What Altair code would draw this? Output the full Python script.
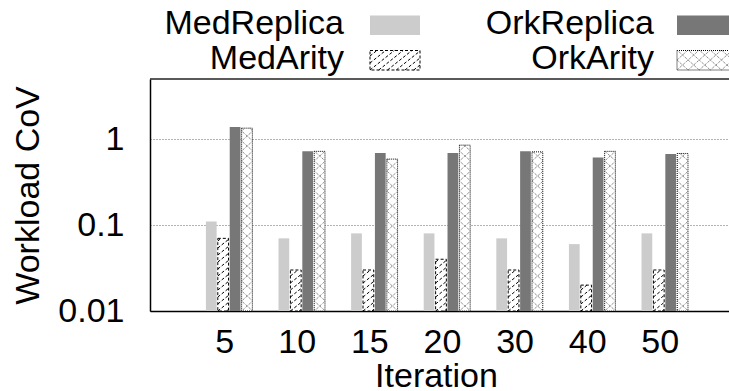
import json

import altair as alt
import numpy as np
import pandas as pd

# ---- data -------------------------------------------------------------
iterations = ["5", "10", "15", "20", "30", "40", "50"]
series = ["MedReplica", "MedArity", "OrkReplica", "OrkArity"]
med_replica = [0.11, 0.07, 0.08, 0.08, 0.07, 0.06, 0.08]
med_arity = [0.07, 0.03, 0.03, 0.04, 0.03, 0.02, 0.03]
ork_replica = [1.38, 0.72, 0.69, 0.69, 0.72, 0.61, 0.67]
ork_arity = [1.34, 0.72, 0.585, 0.85, 0.71, 0.72, 0.68]
y_ticks = [0.01, 0.1, 1]

values = {
    "MedReplica": med_replica,
    "MedArity": med_arity,
    "OrkReplica": ork_replica,
    "OrkArity": ork_arity,
}

# ---- layout -------------------------------------------------------------
PAD_L, PAD_T, PAD_B = 150, 79, 80
W, H = 579, 232
Y_MIN, Y_MAX = 0.01, 5
X_MIN, X_MAX = -1.09, 6.885
BAR_STEP = 0.164      # distance between neighbouring bars of a group (group units)
BAR_HALF = 0.074      # half a bar width (group units)
FONT = "Liberation Sans"
FS = 34

px_per_dec = H / np.log10(Y_MAX / Y_MIN)
px_per_unit = W / (X_MAX - X_MIN)


def to_x(px):
    """Horizontal pixel inside the plot -> x data value."""
    return X_MIN + px / px_per_unit


def to_y(py):
    """Pixels below the plot top -> y data value on the log scale."""
    return Y_MAX * 10 ** (-py / px_per_dec)


STYLE = {
    "MedReplica": dict(fill="#cccccc"),
    "MedArity": dict(fill="white", stroke="black", strokeDash=[3, 2], strokeWidth=1),
    "OrkReplica": dict(fill="#777777"),
    "OrkArity": dict(fill="white", stroke="black", strokeDash=[1, 1], strokeWidth=1),
}

# hatch line families for the patterned series
HATCH = {
    "MedArity": [dict(slope=0.8, gap=7, color="black", dash=[3, 2])],
    "OrkArity": [
        dict(slope=0.9, gap=10, color="#666666", dash=[1, 1]),
        dict(slope=-0.9, gap=10, color="#666666", dash=[1, 1]),
    ],
}


def hatch_lines(w, h, slope, gap):
    """Parallel lines v = o + slope*u clipped to the box [0,w] x [0,h] (v upwards)."""
    segs = []
    lo = min(0.0, -slope * w)
    hi = max(h, h - slope * w)
    k = int(np.floor(lo / gap))
    while k * gap <= hi:
        o = k * gap
        if slope > 0:
            u0, u1 = max(0.0, -o / slope), min(w, (h - o) / slope)
        else:
            u0, u1 = max(0.0, (h - o) / slope), min(w, -o / slope)
        if u1 - u0 > 0.3:
            segs.append((u0, o + slope * u0, u1, o + slope * u1))
        k += 1
    return segs


# ---- bar table ---------------------------------------------------------------
rows = []
for i, it in enumerate(iterations):
    for j, s in enumerate(series):
        pos = i + (j - 1.5) * BAR_STEP
        rows.append(dict(iteration=it, series=s, x0=pos - BAR_HALF,
                         x1=pos + BAR_HALF, value=values[s][i], base=Y_MIN))
bars = pd.DataFrame(rows)

# ---- legend table (two columns, text right-aligned before its swatch) --------
LEG_TEXT_RIGHT = [194, 504]
LEG_SWATCH_X = [(220, 270), (527, 580)]
LEG_BASELINE = [-45, -10]
LEG_SWATCH_H = 19.5
leg_rows = []
for j, s in enumerate(series):
    col, row = j // 2, j % 2
    sx0, sx1 = LEG_SWATCH_X[col]
    sy1 = LEG_BASELINE[row] + 1
    leg_rows.append(dict(series=s, tx=to_x(LEG_TEXT_RIGHT[col]), ty=to_y(LEG_BASELINE[row]),
                         x0=to_x(sx0), x1=to_x(sx1), value=to_y(sy1 - LEG_SWATCH_H),
                         base=to_y(sy1), sx0=sx0, sx1=sx1, sy1=sy1))
legend = pd.DataFrame(leg_rows)

# ---- hatch segments for bars and legend swatches -----------------------------
hrows = []
for s, families in HATCH.items():
    for f_idx, fam in enumerate(families):
        key = f"{s}-{f_idx}"
        for _, b in bars[bars.series == s].iterrows():
            w = (b.x1 - b.x0) * px_per_unit
            h = np.log10(b.value / Y_MIN) * px_per_dec
            for u0, v0, u1, v1 in hatch_lines(w, h, fam["slope"], fam["gap"]):
                hrows.append(dict(key=key,
                                  xa=b.x0 + u0 / px_per_unit, xb=b.x0 + u1 / px_per_unit,
                                  ya=Y_MIN * 10 ** (v0 / px_per_dec),
                                  yb=Y_MIN * 10 ** (v1 / px_per_dec)))
        lg = legend[legend.series == s].iloc[0]
        for u0, v0, u1, v1 in hatch_lines(lg.sx1 - lg.sx0, LEG_SWATCH_H, fam["slope"], fam["gap"]):
            hrows.append(dict(key=key, xa=to_x(lg.sx0 + u0), xb=to_x(lg.sx0 + u1),
                              ya=to_y(lg.sy1 - v0), yb=to_y(lg.sy1 - v1)))
hatch = pd.DataFrame(hrows)

# ---- scales & axes -------------------------------------------------------------
xs = alt.Scale(domain=[X_MIN, X_MAX], nice=False, zero=False)
ys = alt.Scale(type="log", domain=[Y_MIN, Y_MAX], nice=False)

x_axis = alt.Axis(
    title="Iteration", values=list(range(len(iterations))),
    labelExpr=f"{json.dumps(iterations)}[datum.value]",
    grid=False, ticks=False, tickSize=0,
    domainColor="black", domainWidth=1.5,
    labelFont=FONT, labelFontSize=FS, labelColor="black",
    labelPadding=41, labelBaseline="alphabetic", labelOffset=-5,
    labelFlush=False, labelOverlap=False,
    titleFont=FONT, titleFontSize=FS, titleFontWeight="normal", titleColor="black",
    titleX=286, titleY=75, titleAlign="center", titleBaseline="alphabetic",
)
y_axis = alt.Axis(
    title="Workload CoV", values=y_ticks, format="~g",
    grid=True, gridDash=[1, 2], gridColor="#666666", gridWidth=1,
    ticks=False, tickSize=0,
    domainColor="black", domainWidth=1.5,
    labelFont=FONT, labelFontSize=FS, labelColor="black",
    labelAlign="right", labelBaseline="middle", labelPadding=26,
    labelFlush=False, labelOverlap=False,
    titleFont=FONT, titleFontSize=FS, titleFontWeight="normal", titleColor="black",
    titleX=-112, titleY=116, titleAngle=270, titleAlign="center",
    titleBaseline="alphabetic",
)


def rects(df, s):
    return alt.Chart(df).mark_bar(**STYLE[s]).encode(
        x=alt.X("x0:Q", scale=xs, axis=x_axis),
        x2="x1:Q",
        y=alt.Y("value:Q", scale=ys, axis=y_axis),
        y2="base:Q",
    ).transform_filter(alt.datum.series == s)


layers = []
for s in series:
    layers.append(rects(bars, s))
    layers.append(rects(legend, s))

for s, families in HATCH.items():
    for f_idx, fam in enumerate(families):
        key = f"{s}-{f_idx}"
        layers.append(
            alt.Chart(hatch).mark_rule(color=fam["color"], strokeDash=fam["dash"],
                                       strokeWidth=1).encode(
                x=alt.X("xa:Q", scale=xs, axis=x_axis), x2="xb:Q",
                y=alt.Y("ya:Q", scale=ys, axis=y_axis), y2="yb:Q",
            ).transform_filter(alt.datum.key == key)
        )

# frame line along the top of the plot
top = pd.DataFrame({"xa": [X_MIN], "xb": [X_MAX], "ya": [Y_MAX]})
layers.append(
    alt.Chart(top).mark_rule(color="#222222", strokeWidth=1.5).encode(
        x=alt.X("xa:Q", scale=xs, axis=x_axis), x2="xb:Q",
        y=alt.Y("ya:Q", scale=ys, axis=y_axis),
    )
)

# legend labels
layers.append(
    alt.Chart(legend).mark_text(align="right", baseline="alphabetic", font=FONT,
                                fontSize=FS, color="black").encode(
        x=alt.X("tx:Q", scale=xs, axis=x_axis),
        y=alt.Y("ty:Q", scale=ys, axis=y_axis),
        text="series:N",
    )
)

chart = alt.layer(*layers).properties(
    width=W, height=H,
    autosize=alt.AutoSizeParams(type="none"),
    padding={"left": PAD_L, "top": PAD_T, "right": 0, "bottom": PAD_B},
    background="white",
).configure_view(stroke=None)

chart.save("out.html", embed_options={"renderer": "svg", "actions": False})
